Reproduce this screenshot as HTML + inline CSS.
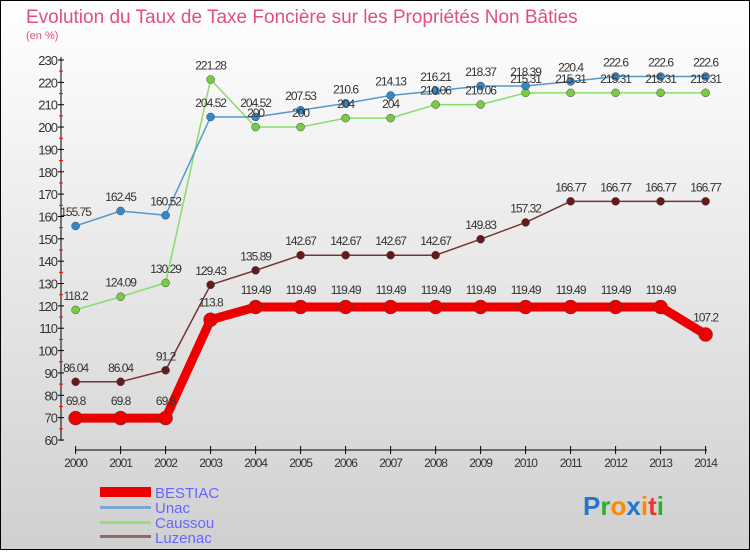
<!DOCTYPE html>
<html><head><meta charset="utf-8"><style>
body{margin:0;width:750px;height:550px;overflow:hidden;font-family:"Liberation Sans",sans-serif}
</style></head><body>
<svg id="c" width="750" height="550" xmlns="http://www.w3.org/2000/svg">
<defs><linearGradient id="bg" x1="0" y1="0" x2="0" y2="1"><stop offset="0" stop-color="#ffffff"/><stop offset="1" stop-color="#d0d0d0"/></linearGradient></defs>
<rect x="0.5" y="0.5" width="749" height="549" fill="url(#bg)" stroke="#000"/>
<text x="26" y="23" font-size="19" fill="#e0507a">Evolution du Taux de Taxe Foncière sur les Propriétés Non Bâties</text>
<text x="26" y="39" font-size="11" fill="#e0507a">(en %)</text>
<g id="axes"></g><g id="series"></g><g id="labels"></g>
<g>
<rect x="100" y="487" width="51" height="10" fill="#e00"/>
<text x="155" y="498" font-size="15" fill="#6666ff">BESTIAC</text>
<rect x="100" y="506" width="51" height="3" fill="#7aa8d0"/>
<text x="155" y="513" font-size="15" fill="#6666ff">Unac</text>
<rect x="100" y="521" width="51" height="3" fill="#99dd77"/>
<text x="155" y="528" font-size="15" fill="#6666ff">Caussou</text>
<rect x="100" y="535" width="51" height="3" fill="#996666"/>
<text x="155" y="543" font-size="15" fill="#6666ff">Luzenac</text>
</g>
<text x="583" y="515" font-size="26" font-weight="bold"><tspan fill="#2277cc">P</tspan><tspan fill="#33aa33">r</tspan><tspan fill="#ff8800">o</tspan><tspan fill="#2277cc">x</tspan><tspan fill="#ff8800">i</tspan><tspan fill="#ee3333">t</tspan><tspan fill="#33aa33">i</tspan></text>
</svg>
<script>
const years=[2000,2001,2002,2003,2004,2005,2006,2007,2008,2009,2010,2011,2012,2013,2014];
const yTicks=[60,70,80,90,100,110,120,130,140,150,160,170,180,190,200,210,220,230];
const bestiac=[69.8,69.8,69.8,113.8,119.49,119.49,119.49,119.49,119.49,119.49,119.49,119.49,119.49,119.49,107.2];
const unac=[155.75,162.45,160.52,204.52,204.52,207.53,210.6,214.13,216.21,218.37,218.39,220.4,222.6,222.6,222.6];
const caussou=[118.2,124.09,130.29,221.28,200,200,204,204,210.06,210.06,215.31,215.31,215.31,215.31,215.31];
const luzenac=[86.04,86.04,91.2,129.43,135.89,142.67,142.67,142.67,142.67,149.83,157.32,166.77,166.77,166.77,166.77];
const NS="http://www.w3.org/2000/svg";
const X=i=>75.6+i*45.0, Y=v=>440-(v-60)*380/170;
function mk(t,a,p){const e=document.createElementNS(NS,t);for(const k in a)e.setAttribute(k,a[k]);document.getElementById(p).appendChild(e);return e;}
let e=mk('line',{x1:61,y1:57,x2:61,y2:441,stroke:'#000'},'axes');

e=mk('line',{x1:75,y1:450,x2:707,y2:450,stroke:'#000'},'axes');

yTicks.forEach((v,i)=>{
 mk('line',{x1:58,y1:Y(v),x2:64,y2:Y(v),stroke:'#000'},'axes');
 if(i<yTicks.length-1) mk('line',{x1:59,y1:Y(v+5),x2:63,y2:Y(v+5),stroke:'#f00'},'axes');
 const t=mk('text',{x:57,y:Y(v)+5,'font-size':13,'text-anchor':'end',fill:'#333','letter-spacing':'-1'},'axes');
 t.textContent=v;
 
});
years.forEach((y,i)=>{
 mk('line',{x1:X(i),y1:446,x2:X(i),y2:454,stroke:'#000'},'axes');
 const t=mk('text',{x:X(i),y:467,'font-size':12,'text-anchor':'middle',fill:'#333','letter-spacing':'-1'},'axes');
 t.textContent=y;
 
});
function series(d,name,lc,pc,w,r){
 const pts=d.map((v,i)=>X(i)+','+Y(v)).join(' ');
 const l=mk('polyline',{points:pts,fill:'none',stroke:lc,'stroke-width':w,'stroke-linejoin':'round'},'series');
 
 d.forEach((v,i)=>{
  const c=mk('circle',{cx:X(i),cy:Y(v),r:r,fill:pc,stroke:'#444','stroke-width':0.5},'series');
  
  const t=mk('text',{x:X(i),y:Y(v)-r-6,'font-size':12,'text-anchor':'middle',fill:'#333','letter-spacing':'-1'},'labels');
  t.textContent=String(v);
  
 });
}
series(caussou,'caussou','#88dd66','#77cc44',1.5,4);
series(unac,'unac','#5599cc','#3388cc',1.5,4);
series(luzenac,'luzenac','#773333','#661a1a',1.5,4);
series(bestiac,'bestiac','#ee0000','#ee0000',9,7);
</script>
</body></html>
